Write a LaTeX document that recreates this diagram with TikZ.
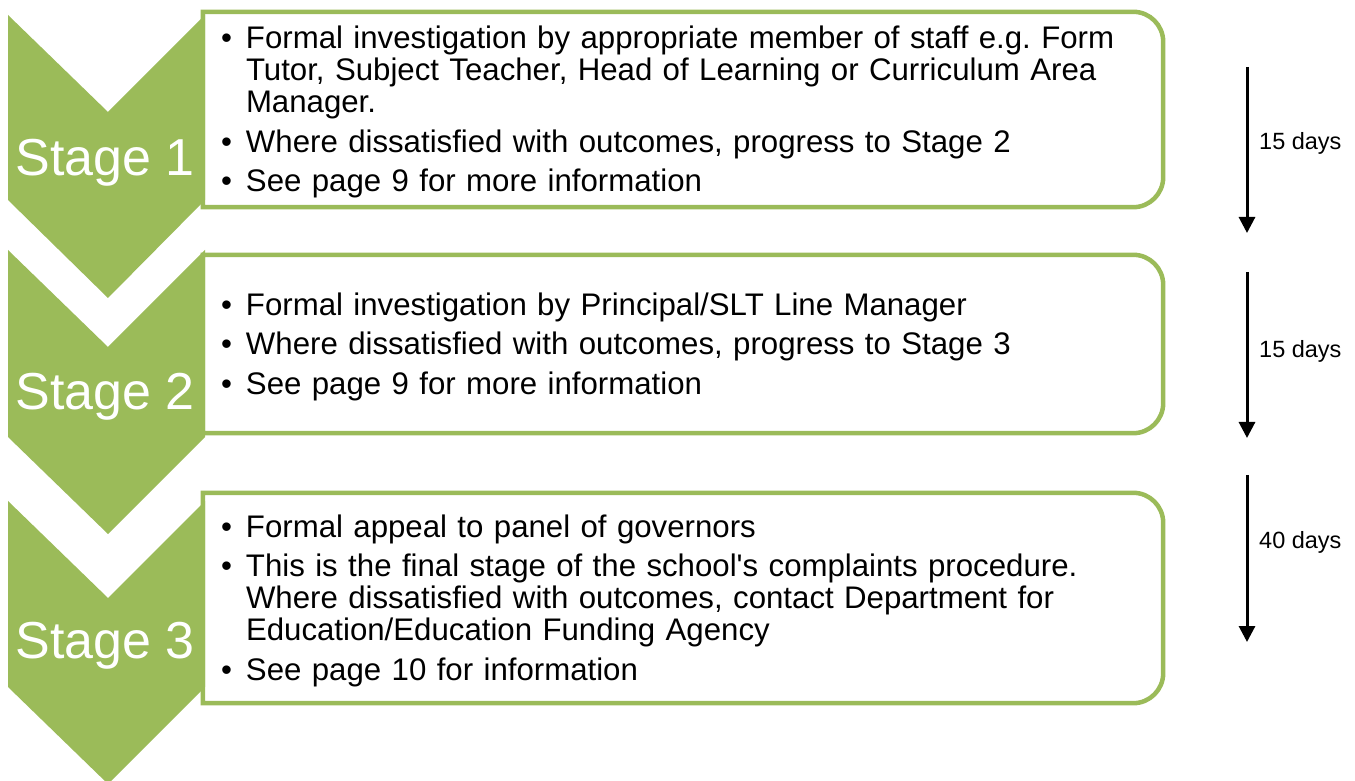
\documentclass[tikz,border=0pt]{standalone}
\usepackage{fontspec}
\setmainfont{Liberation Sans}
\usepackage{tikz}
\usetikzlibrary{arrows.meta,positioning}
\definecolor{stagegreen}{HTML}{9BBB59}
\newcommand{\stagepoint}[1]{\par\noindent\hangindent=25pt\hangafter=1\makebox[25pt][l]{\textbullet}#1\par}
\tikzset{
  every node/.style={
    font=\fontsize{31.2}{32}\selectfont
  },
  chevron/.style={
    fill=stagegreen
  },
  stagelabel/.style={
    text=white,
    font=\fontsize{52}{60}\selectfont,
    anchor=base,
    inner sep=0pt
  },
  stagebox/.style={
    text width=924pt,
    inner xsep=18pt,
    inner ysep=0pt,
    execute at begin node={\vspace*{-6pt}\raggedright\frenchspacing\setlength{\parskip}{7.5pt}},
    execute at end node={\par\vspace*{6pt}}
  },
  boxline/.style={
    draw=stagegreen,
    line width=4.5pt
  },
  timeline/.style={
    line width=3pt,
    -{Triangle[width=16pt,length=16pt]}
  },
  daylabel/.style={
    font=\fontsize{23.5}{26}\selectfont,
    anchor=base west,
    inner sep=0pt
  }
}

\begin{document}
\begin{tikzpicture}[x=1pt,y=1pt]
  \useasboundingbox (0,0) rectangle (1355,780);
  % chevrons
  \fill[chevron] (8,765) -- (108,668) -- (205,765) -- (205,580) -- (108,482) -- (8,580) -- cycle;
  \fill[chevron] (8,530) -- (108,433) -- (205,530) -- (205,343) -- (108,246) -- (8,343) -- cycle;
  \fill[chevron] (8,279) -- (108,182) -- (205,279) -- (205,93) -- (108,-4) -- (8,93) -- cycle;
  \node[stagelabel] (stage1) at (105,604) {Stage 1};
  \node[stagelabel] (stage2) at (105,370) {Stage 2};
  \node[stagelabel] (stage3) at (105,122) {Stage 3};

  % boxes
  \node[stagebox, minimum height=195pt] (box1) at (683,670.5) {
    \stagepoint{Formal investigation by appropriate member of staff e.g. Form\newline Tutor, Subject Teacher, Head of Learning or Curriculum Area\newline Manager.}
    \stagepoint{Where dissatisfied with outcomes, progress to Stage 2}
    \stagepoint{See page 9 for more information}
  };
  \node[stagebox, minimum height=178pt] (box2) at (683,436) {
    \stagepoint{Formal investigation by Principal/SLT Line Manager}
    \stagepoint{Where dissatisfied with outcomes, progress to Stage 3}
    \stagepoint{See page 9 for more information}
  };
  \node[stagebox, minimum height=210pt] (box3) at (683,182) {
    \stagepoint{Formal appeal to panel of governors}
    \stagepoint{This is the final stage of the school\textquotesingle s complaints procedure.\newline Where dissatisfied with outcomes, contact Department for\newline Education/Education Funding Agency}
    \stagepoint{See page 10 for information}
  };
  \draw[boxline] (box1.south west) -- (box1.north west) -- ([xshift=-30pt]box1.north east)
    arc[start angle=90, end angle=0, radius=30pt] -- ([yshift=30pt]box1.south east)
    arc[start angle=0, end angle=-90, radius=30pt] -- cycle;
  \draw[boxline] (box2.south west) -- (box2.north west) -- ([xshift=-30pt]box2.north east)
    arc[start angle=90, end angle=0, radius=30pt] -- ([yshift=30pt]box2.south east)
    arc[start angle=0, end angle=-90, radius=30pt] -- cycle;
  \draw[boxline] (box3.south west) -- (box3.north west) -- ([xshift=-30pt]box3.north east)
    arc[start angle=90, end angle=0, radius=30pt] -- ([yshift=30pt]box3.south east)
    arc[start angle=0, end angle=-90, radius=30pt] -- cycle;

  % time spans
  \coordinate (span1top) at (1247,713);
  \coordinate (span1end) at (1247,547);
  \coordinate (span2top) at (1247,508);
  \coordinate (span2end) at (1247,342);
  \coordinate (span3top) at (1247,305);
  \coordinate (span3end) at (1247,138);
  \draw[timeline] (span1top) -- (span1end);
  \draw[timeline] (span2top) -- (span2end);
  \draw[timeline] (span3top) -- (span3end);
  \node[daylabel] (days1) at (1259,630) {15 days};
  \node[daylabel] (days2) at (1259,422) {15 days};
  \node[daylabel] (days3) at (1259,232) {40 days};
\end{tikzpicture}
\end{document}
